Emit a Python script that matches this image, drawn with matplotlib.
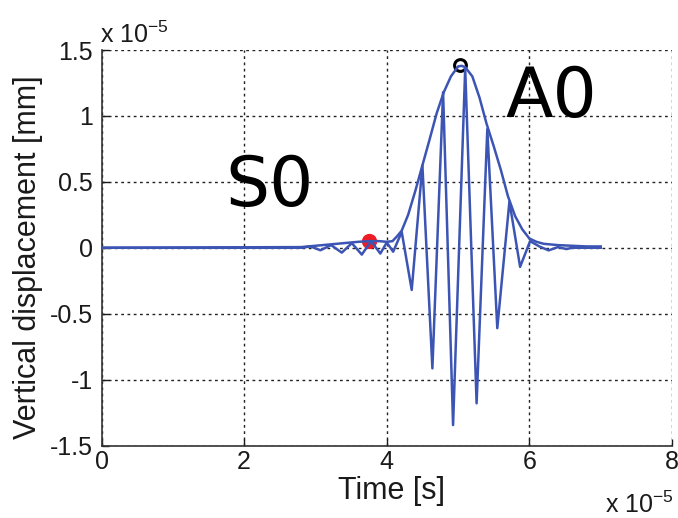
import matplotlib
matplotlib.use("Agg")
import matplotlib.pyplot as plt

# Time axis in units of 1e-5 s, displacement in units of 1e-5 mm
signal_t = [0.0, 2.80, 2.93, 3.07, 3.22, 3.37, 3.51, 3.65, 3.78, 3.91, 4.00, 4.09,
            4.21, 4.35, 4.50, 4.64, 4.79, 4.93, 5.10, 5.26, 5.41, 5.55, 5.72, 5.87,
            6.01, 6.14, 6.27, 6.40, 6.52, 6.60, 7.00]
signal_u = [0.0, 0.0, 0.01, -0.019, 0.02, -0.037, 0.035, -0.052, 0.05, -0.044, 0.04, -0.03,
            0.12, -0.32, 0.625, -0.915, 1.18, -1.345, 1.36, -1.18, 0.90, -0.61, 0.35, -0.145,
            0.05, 0.01, -0.02, 0.005, -0.01, 0.0, 0.0]

envelope_t = [0.0, 2.80, 3.00, 3.20, 3.40, 3.60, 3.75, 3.90, 4.00, 4.08, 4.15, 4.21,
              4.30, 4.40, 4.50, 4.60, 4.70, 4.80, 4.90, 5.00, 5.05, 5.10, 5.20, 5.30,
              5.40, 5.50, 5.60, 5.70, 5.80, 5.90, 6.00, 6.10, 6.20, 6.40, 6.60, 6.80, 7.00]
envelope_u = [0.0, 0.005, 0.015, 0.025, 0.035, 0.045, 0.05, 0.05, 0.045, 0.05, 0.09, 0.13,
              0.25, 0.43, 0.625, 0.82, 1.02, 1.18, 1.30, 1.375, 1.38, 1.37, 1.30, 1.14,
              0.94, 0.77, 0.59, 0.39, 0.24, 0.14, 0.07, 0.045, 0.03, 0.02, 0.015, 0.01, 0.01]

s0_peak = (3.756, 0.049)
a0_peak = (5.03, 1.383)

x_ticks = [0, 2, 4, 6, 8]
x_labels = ["0", "2", "4", "6", "8"]
y_ticks = [-1.5, -1, -0.5, 0, 0.5, 1, 1.5]
y_labels = ["-1.5", "-1", "-0.5", "0", "0.5", "1", "1.5"]

plt.rcParams["font.family"] = ["Liberation Sans", "DejaVu Sans"]
plt.rcParams["mathtext.fontset"] = "custom"
plt.rcParams["mathtext.rm"] = "Liberation Sans"

W, H = 678, 518
fig = plt.figure(figsize=(W / 100, H / 100), dpi=100)
ax = fig.add_axes([101.5 / W, 72.5 / H, (672 - 101.5) / W, (445.5 - 50) / H])

blue = "#3C55B4"
ax.plot(s0_peak[0], s0_peak[1], "o", ms=10, mfc="#EE1C25", mec="#EE1C25", zorder=2)
ax.plot(a0_peak[0], a0_peak[1], "o", ms=8.5, mfc="none", mec="black", mew=2.2, zorder=2)
ax.plot(envelope_t, envelope_u, color=blue, lw=1.8, zorder=3)
ax.plot(signal_t, signal_u, color=blue, lw=1.8, zorder=3)

ax.set_xlim(0, 8)
ax.set_ylim(-1.5, 1.5)
ax.set_xticks(x_ticks)
ax.set_xticklabels(x_labels)
ax.set_yticks(y_ticks)
ax.set_yticklabels(y_labels)
ax.tick_params(direction="in", length=5, width=1, labelsize=18, colors="#1a1a1a")
ax.tick_params(axis="x", pad=3.5)
ax.tick_params(axis="y", pad=6)

for side in ("top", "right"):
    ax.spines[side].set_visible(False)
for side in ("left", "bottom"):
    ax.spines[side].set_color("#333333")
    ax.spines[side].set_linewidth(1.2)

ax.grid(True, color="#222222", linestyle=(0, (2, 2.5)), linewidth=1)
ax.set_axisbelow(True)

ax.set_xlabel("Time [s]", fontsize=22, color="#1a1a1a")
ax.xaxis.set_label_coords(0.508, -0.077)
ax.set_ylabel("Vertical displacement [mm]", fontsize=22, color="#1a1a1a")
ax.yaxis.set_label_coords(-0.102, 0.476)

ax.text(2.35, 0.466, "S0", fontsize=50, family="DejaVu Sans", ha="center", va="center")
ax.text(6.31, 1.136, "A0", fontsize=50, family="DejaVu Sans", ha="center", va="center")

fig.text(100 / W, 1 - 43 / H, r"x 10$^{\mathregular{-5}}$", fontsize=18, va="baseline",
         color="#1a1a1a")
fig.text(605 / W, 1 - 513 / H, r"x 10$^{\mathregular{-5}}$", fontsize=18, va="baseline",
         color="#1a1a1a")

fig.savefig("out.png", dpi=100)
